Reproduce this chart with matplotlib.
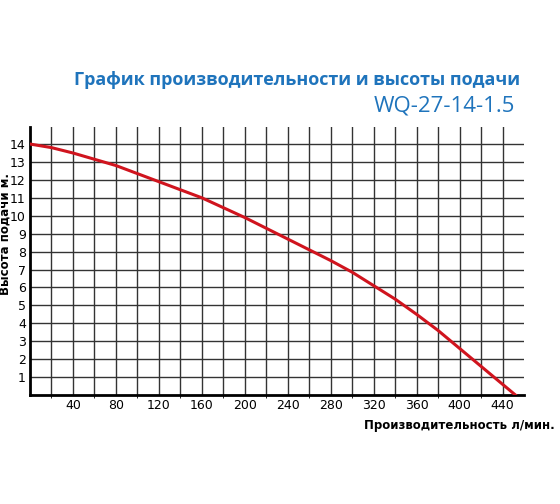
import matplotlib
matplotlib.use("Agg")
import matplotlib.pyplot as plt

flow = [0, 20, 40, 60, 80, 100, 120, 140, 160, 180, 200, 220, 240, 260, 280, 300, 320, 340, 360, 380, 400, 420, 440, 452]
head = [14, 13.8, 13.5, 13.15, 12.8, 12.35, 11.9, 11.45, 11.0, 10.45, 9.9, 9.3, 8.7, 8.1, 7.5, 6.85, 6.1, 5.35, 4.5, 3.6, 2.6, 1.6, 0.6, 0]
xticks = [40, 80, 120, 160, 200, 240, 280, 320, 360, 400, 440]
yticks = list(range(1, 15))

fig = plt.figure(figsize=(5.6, 5.04), dpi=100)
ax = fig.add_axes([30/560, 1-395/504, (524-30)/560, (395-127)/504])
ax.plot(flow, head, color="#d0141e", lw=2.2, zorder=3, solid_joinstyle="round")
ax.set_xlim(0, 460)
ax.set_ylim(0, 14.95)
ax.set_xticks(range(20, 460, 20), minor=True)
ax.set_xticks(xticks)
ax.set_yticks(yticks)
ax.grid(True, which="both", color="#333333", lw=1)
ax.tick_params(length=0, labelsize=9, pad=3)
for s in ["top", "right"]:
    ax.spines[s].set_visible(False)
for s in ["left", "bottom"]:
    ax.spines[s].set_linewidth(2)
ax.set_ylabel("Высота подачи м.", fontsize=8.5, fontweight="bold")
ax.yaxis.set_label_coords(-0.038, 0.6)
fig.text(0.99, 1-425/504, "Производительность л/мин.", ha="right", va="center", fontsize=8.5, fontweight="bold")
fig.text(0.53, 1-80/504, "График производительности и высоты подачи", ha="center", va="center",
         fontsize=13, fontweight="bold", color="#1f74bc", family="Open Sans")
fig.text(0.92, 1-106/504, "WQ-27-14-1.5", ha="right", va="center", fontsize=16, color="#1f74bc", family="Open Sans")
fig.savefig("out.png", dpi=100)
